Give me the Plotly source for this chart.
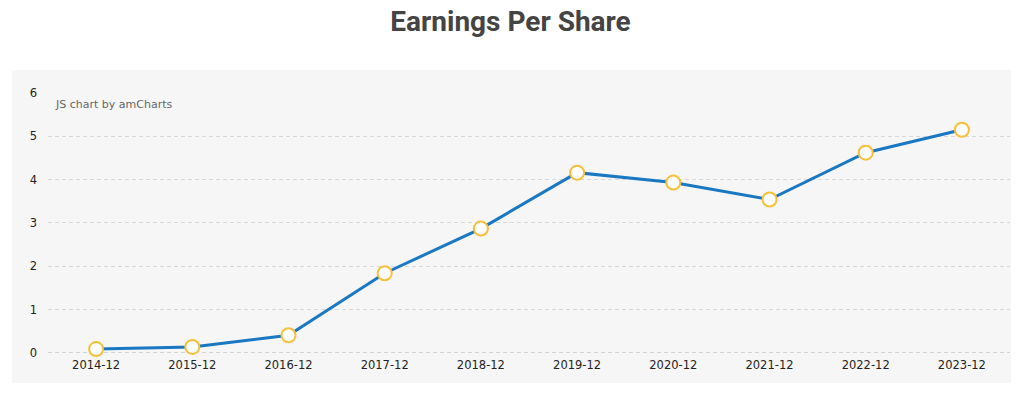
import plotly.graph_objects as go

categories = ["2014-12", "2015-12", "2016-12", "2017-12", "2018-12",
              "2019-12", "2020-12", "2021-12", "2022-12", "2023-12"]
eps = [0.09, 0.14, 0.41, 1.84, 2.87, 4.16, 3.93, 3.54, 4.62, 5.15]
y_ticks = [0, 1, 2, 3, 4, 5, 6]

W, H = 1021, 395
L, R, T, B = 48, 11, 92, 42
pw = W - L - R
ph = H - T - B

fig = go.Figure()
fig.add_trace(go.Scatter(
    x=categories, y=eps, mode="lines+markers",
    line=dict(color="#1a78c2", width=3),
    marker=dict(size=14, color="white", line=dict(color="#f7bf3a", width=2)),
    cliponaxis=False, hoverinfo="x+y", showlegend=False,
))

fig.add_shape(type="rect", xref="paper", yref="paper",
              x0=(12 - L) / pw, x1=(1011 - L) / pw,
              y0=(H - B - 383) / ph, y1=(H - B - 70) / ph,
              fillcolor="#f6f6f6", line=dict(width=0), layer="below")
fig.add_shape(type="line", xref="paper", yref="y", x0=0, x1=1, y0=0, y1=0,
              line=dict(color="#b0b0b0", width=1, dash="4px,3px"), layer="below")

fig.add_annotation(text="JS chart by amCharts", xref="paper", yref="paper",
                   x=(53 - L) / pw, y=(H - B - 104) / ph, xanchor="left", yanchor="middle",
                   showarrow=False, font=dict(family="DejaVu Sans", size=11, color="#666666"))

fig.update_layout(
    width=W, height=H,
    margin=dict(l=L, r=R, t=T, b=B),
    paper_bgcolor="white", plot_bgcolor="rgba(0,0,0,0)",
    title=dict(text="<b>Earnings Per Share</b>", x=0.5, xanchor="center",
               y=1 - 21 / H, yanchor="middle",
               font=dict(family="Roboto", size=28, color="#444444")),
    font=dict(family="DejaVu Sans", size=11.5, color="#222222"),
)
fig.update_xaxes(type="category", range=[-0.5, len(categories) - 0.5],
                 showgrid=False, zeroline=False, showline=False,
                 automargin=False, ticks="", tickfont=dict(size=11.5, color="#222222"),
                 ticklabelstandoff=3)
fig.update_yaxes(range=[0, 6.02], tickvals=y_ticks, showgrid=True, gridcolor="#d8d8d8",
                 griddash="4px,3px", gridwidth=1, zeroline=False, showline=False,
                 automargin=False, ticks="", ticklabelstandoff=10,
                 tickfont=dict(size=11.5, color="#222222"))

fig.write_html("out.html", config={"displayModeBar": False},
               post_script="document.body.style.margin='0';document.body.style.overflow='hidden';")
